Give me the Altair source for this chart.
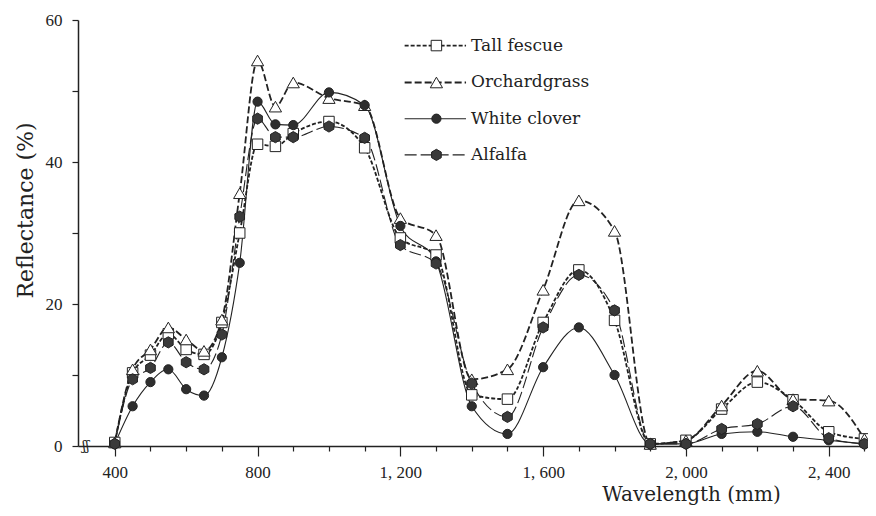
import altair as alt
import pandas as pd

# ---------------- data ----------------
wavelengths = [400, 450, 500, 550, 600, 650, 700, 750, 800, 850, 900, 1000, 1100,
               1200, 1300, 1400, 1500, 1600, 1700, 1800, 1900, 2000, 2100, 2200,
               2300, 2400, 2500]

tall_fescue = [0.5, 10.3, 12.8, 15.8, 13.6, 12.9, 17.4, 30.0, 42.5, 42.2, 44.0, 45.7, 42.0,
               29.3, 26.9, 7.2, 6.6, 17.4, 24.8, 17.7, 0.3, 0.8, 5.2, 9.0, 6.5, 2.0, 1.0]
orchardgrass = [0.5, 10.8, 13.6, 16.7, 15.0, 13.4, 17.8, 35.6, 54.3, 47.8, 51.2, 49.0, 48.0,
                32.1, 29.7, 9.4, 10.8, 22.0, 34.6, 30.3, 0.3, 0.8, 5.7, 10.6, 6.6, 6.4, 1.0]
white_clover = [0.3, 5.6, 9.0, 10.8, 8.0, 7.1, 12.5, 25.8, 48.5, 45.3, 45.2, 49.8, 48.0,
                31.0, 26.0, 5.6, 1.7, 11.1, 16.7, 10.0, 0.3, 0.3, 1.7, 2.0, 1.3, 0.8, 0.3]
alfalfa = [0.3, 9.4, 11.0, 14.6, 11.8, 10.8, 15.7, 32.3, 46.1, 43.5, 43.5, 45.0, 43.4,
           28.3, 25.7, 8.8, 4.1, 16.7, 24.1, 19.1, 0.3, 0.3, 2.4, 3.1, 5.6, 1.1, 0.3]

series_names = ["Tall fescue", "Orchardgrass", "White clover", "Alfalfa"]
series_values = [tall_fescue, orchardgrass, white_clover, alfalfa]

x_tick_values = list(range(400, 2501, 100))
y_tick_values = [0, 10, 20, 30, 40, 50, 60]

# ---------------- styling / layout (not data) ----------------
HEXAGON = "M0,-1L0.866,-0.5L0.866,0.5L0,1L-0.866,0.5L-0.866,-0.5Z"
styles = {
    "Tall fescue": dict(dash=[4, 2], width=1.8, shape="square", fill="white", size=110),
    "Orchardgrass": dict(dash=[7, 3], width=1.8, shape="triangle-up", fill="white", size=150),
    "White clover": dict(dash=None, width=1.1, shape="circle", fill="#2e2e2e", size=85),
    "Alfalfa": dict(dash=[12, 4], width=1.1, shape=HEXAGON, fill="#3a3a3a", size=125),
}
INK = "#222222"

legend_rows_y = [56.4, 51.2, 46.1, 41.0]
legend_line_x = (1212, 1384)
legend_marker_x = 1301
legend_text_x = 1398
break_mark_x = 319

x_scale = alt.Scale(domain=[297, 2510], nice=False, zero=False)
y_scale = alt.Scale(domain=[0, 60], nice=False)

x_axis = alt.Axis(
    values=x_tick_values,
    labelExpr="datum.value % 400 == 0 ? replace(format(datum.value, ','), ',', ', ') : ''",
    tickSize={"condition": {"test": "datum.value % 400 == 0", "value": 10}, "value": 5},
    labelPadding=8,
    labelFont="Liberation Serif",
    labelFontSize=17,
    title="Wavelength (mm)",
    titleFont="DejaVu Serif",
    titleFontSize=20,
    titleFontWeight="normal",
    titleX=613,
    titleY=54,
    titleAlign="center",
    titleBaseline="alphabetic",
)
y_axis = alt.Axis(
    values=y_tick_values,
    labelExpr="datum.value % 20 == 0 ? datum.label : ''",
    tickSize=6,
    labelPadding=10,
    labelFont="Liberation Serif",
    labelFontSize=17,
    title="Reflectance (%)",
    titleFont="DejaVu Serif",
    titleFontSize=22,
    titleFontWeight="normal",
    titleX=-53,
    titleY=190,
    titleAlign="center",
    titleBaseline="middle",
    titleAngle=-90,
)

X = alt.X("wavelength:Q", scale=x_scale, axis=x_axis)
Y = alt.Y("reflectance:Q", scale=y_scale, axis=y_axis)

line_layers, point_layers, legend_layers = [], [], []
for name, vals, ly in zip(series_names, series_values, legend_rows_y):
    st = styles[name]
    df = pd.DataFrame({"wavelength": wavelengths, "reflectance": vals, "series": name})
    line_kw = dict(color=INK, strokeWidth=st["width"], interpolate="monotone")
    if st["dash"]:
        line_kw["strokeDash"] = st["dash"]
    line_layers.append(alt.Chart(df).mark_line(**line_kw).encode(x=X, y=Y))
    pt_kw = dict(shape=st["shape"], size=st["size"], fill=st["fill"], stroke=INK,
                 strokeWidth=1, filled=True, opacity=1)
    point_layers.append(alt.Chart(df).mark_point(**pt_kw).encode(x=X, y=Y))

    # legend entry
    ldf = pd.DataFrame({"wavelength": list(legend_line_x), "reflectance": [ly, ly], "series": name})
    legend_layers.append(alt.Chart(ldf).mark_line(**{k: v for k, v in line_kw.items() if k != "interpolate"}).encode(x=X, y=Y))
    mdf = pd.DataFrame({"wavelength": [legend_marker_x], "reflectance": [ly], "series": [name]})
    legend_layers.append(alt.Chart(mdf).mark_point(**pt_kw).encode(x=X, y=Y))
    tdf = pd.DataFrame({"wavelength": [legend_text_x], "reflectance": [ly], "series": [name]})
    legend_layers.append(
        alt.Chart(tdf).mark_text(align="left", baseline="middle", font="DejaVu Serif",
                                 fontSize=17, color=INK).encode(x=X, y=Y, text="series:N")
    )

bdf = pd.DataFrame({"wavelength": [break_mark_x], "reflectance": [0], "txt": ["ʃʃ"]})
break_layer = alt.Chart(bdf).mark_text(font="DejaVu Serif", fontSize=13, color=INK,
                                       baseline="middle", align="center").encode(x=X, y=Y, text="txt:N")

chart = alt.layer(*line_layers, *point_layers, *legend_layers, break_layer).properties(
    width=790,
    height=426,
    padding={"left": 70, "top": 12, "right": 0, "bottom": 62},
    autosize=alt.AutoSizeParams(type="none"),
    background="white",
).configure_view(stroke=None).configure_axis(
    grid=False,
    domainColor=INK,
    domainWidth=1.5,
    tickColor=INK,
    tickWidth=1.2,
    labelColor=INK,
    titleColor=INK,
)

chart.save("out.html", embed_options={"renderer": "svg", "actions": False})
